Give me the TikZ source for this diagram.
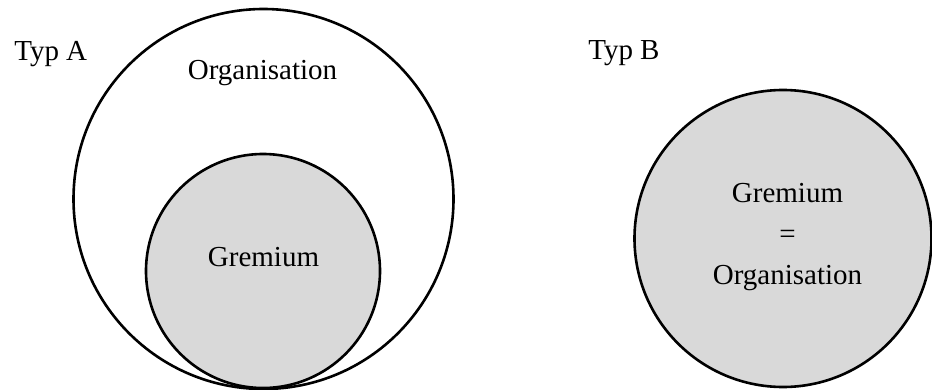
\documentclass[tikz,border=0pt]{standalone}
\usepackage{fontspec}
\setmainfont{Liberation Serif}
\usetikzlibrary{positioning}

\begin{document}
\begin{tikzpicture}[x=0.5pt,y=-0.5pt,line width=1.3pt,
                    every node/.style={font=\fontsize{14.5}{20.5}\selectfont,inner sep=0pt}]
      \tikzstyle{menge}=[circle,draw,minimum size=#1*0.5pt]
      \tikzstyle{gremium}=[menge=#1,fill=black!15]

      \useasboundingbox (0,0) rectangle (932,390);

      % Typ A
      \node[menge=380]      (orgA) at (263.5,199) {};
      \node[gremium=234]    (grA)  at (263,271)   {};
      \node[anchor=base west] (typA) at (13,61)   {Typ A};
      \node[anchor=base]    (lblOrgA) at (262.5,80) {Organisation};
      \node[anchor=base]    (lblGrA)  at (263.5,266) {Gremium};

      % Typ B
      \node[gremium=297]    (grB)  at (783,238.5) {};
      \node[anchor=base west] (typB) at (587,60)  {Typ B};
      \node[align=center]   (lblB) at (787.5,237) {Gremium\\=\\Organisation};

    \end{tikzpicture}
\end{document}
